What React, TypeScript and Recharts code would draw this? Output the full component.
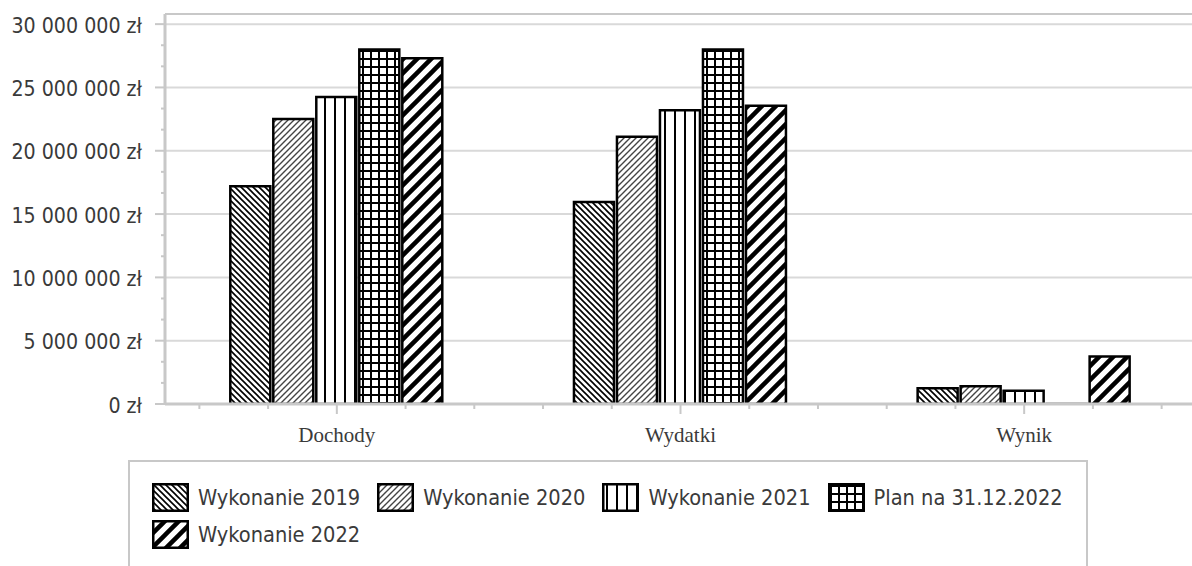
import { BarChart, Bar, XAxis, YAxis, CartesianGrid, ReferenceLine } from 'recharts'

// values (PLN)
const categories = ['Dochody', 'Wydatki', 'Wynik']
const wyk2019 = [17200000, 15950000, 1250000]
const wyk2020 = [22500000, 21100000, 1400000]
const wyk2021 = [24250000, 23200000, 1050000]
const plan2022 = [28000000, 28000000, -150000]
const wyk2022 = [27300000, 23550000, 3750000]

const seriesKeys = ['wyk2019', 'wyk2020', 'wyk2021', 'plan2022', 'wyk2022']
const seriesNames = ['Wykonanie 2019', 'Wykonanie 2020', 'Wykonanie 2021', 'Plan na 31.12.2022', 'Wykonanie 2022']
const seriesPatterns = ['pat2019', 'pat2020', 'pat2021', 'patPlan', 'pat2022']

const yLabels = [0, 5000000, 10000000, 15000000, 20000000, 25000000, 30000000]
const Y_MAX = 30800000
const Y_STEP = 5000000
const MINOR_PER_STEP = 3

// plot area runs a few px past the right edge of the picture
const PAGE_W = 1192
const CHART_W = 1196
const CHART_H = 566
const Y_W = 165
const M_RIGHT = 0
const BAND = (CHART_W - Y_W - M_RIGHT) / categories.length

const SANS = "'DejaVu Sans Condensed', 'DejaVu Sans', sans-serif"
const SERIF = "'Liberation Serif', 'Times New Roman', serif"
const TEXT = '#3a3a3a'
const AXIS = '#c8c8c8'

const data = categories.map((name, i) => ({
  name,
  wyk2019: wyk2019[i],
  wyk2020: wyk2020[i],
  wyk2021: wyk2021[i],
  plan2022: plan2022[i],
  wyk2022: wyk2022[i],
}))

const yTicks = Array.from({ length: (yLabels.length - 1) * MINOR_PER_STEP + 1 }, (_, i) => (i * Y_STEP) / MINOR_PER_STEP)

const fmt = (v: number) => String(Math.round(v)).replace(/\B(?=(\d{3})+(?!\d))/g, ' ') + ' zł'

const YTick = (props: any) => {
  const { x, y, payload } = props
  const v = payload.value
  const major = Math.abs(v / Y_STEP - Math.round(v / Y_STEP)) < 1e-6
  return (
    <g>
      <line x1={x - (major ? 10 : 4)} x2={x} y1={y} y2={y} stroke={AXIS} strokeWidth={2} />
      {major && (
        <text x={x - 23} y={y} dy={8.5} textAnchor="end" fill={TEXT} fontFamily={SANS} fontSize={21.2}>
          {fmt(v)}
        </text>
      )}
    </g>
  )
}

const XTick = (props: any) => {
  const { x, y, payload } = props
  const minors = [-0.4, -0.2, 0.2, 0.4]
  return (
    <g>
      <line x1={x} x2={x} y1={y} y2={y + 10} stroke={AXIS} strokeWidth={2} />
      {minors.map((m) => (
        <line key={m} x1={x + m * BAND} x2={x + m * BAND} y1={y} y2={y + 5} stroke={AXIS} strokeWidth={2} />
      ))}
      <text x={x} y={y + 38} textAnchor="middle" fill={TEXT} fontFamily={SERIF} fontSize={21}>
        {payload.value}
      </text>
    </g>
  )
}

function Patterns() {
  return (
    <svg width={0} height={0} style={{ position: 'absolute' }}>
      <defs>
        <pattern id="pat2019" patternUnits="userSpaceOnUse" width={6} height={6}>
          <rect width={6} height={6} fill="#fff" />
          <path d="M-1,-1 L7,7 M-1,5 L1,7 M5,-1 L7,1" stroke="#000" strokeWidth={1.6} />
        </pattern>
        <pattern id="pat2020" patternUnits="userSpaceOnUse" width={6} height={6}>
          <rect width={6} height={6} fill="#fff" />
          <path d="M-1,7 L7,-1 M-1,1 L1,-1 M5,7 L7,5" stroke="#444" strokeWidth={1.4} />
        </pattern>
        <pattern id="pat2021" patternUnits="userSpaceOnUse" width={10} height={10}>
          <rect width={10} height={10} fill="#fff" />
          <rect x={4} width={2} height={10} fill="#000" />
        </pattern>
        <pattern id="patPlan" patternUnits="userSpaceOnUse" width={8} height={8}>
          <rect width={8} height={8} fill="#fff" />
          <path d="M3,0 V8 M0,3 H8" stroke="#000" strokeWidth={2} />
        </pattern>
        <pattern id="pat2022" patternUnits="userSpaceOnUse" width={14} height={14}>
          <rect width={14} height={14} fill="#fff" />
          <path d="M-1,15 L15,-1 M-4,4 L4,-4 M10,18 L18,10" stroke="#000" strokeWidth={4.5} />
        </pattern>
      </defs>
    </svg>
  )
}

function Legend() {
  return (
    <div
      style={{
        position: 'absolute',
        left: 128,
        top: 460,
        width: 960,
        height: 120,
        border: `2px solid ${AXIS}`,
        padding: '21px 0 0 22px',
        boxSizing: 'border-box',
        display: 'flex',
        flexWrap: 'wrap',
        alignContent: 'flex-start',
        rowGap: 9,
        columnGap: 17,
        fontFamily: SANS,
        fontSize: 21.6,
        color: TEXT,
      }}
    >
      {seriesNames.map((name, i) => (
        <div key={name} style={{ display: 'flex', alignItems: 'center', height: 28 }}>
          <svg width={37} height={29} style={{ marginRight: 9 }}>
            <rect x={1.25} y={1.25} width={34.5} height={26.5} fill={`url(#${seriesPatterns[i]})`} stroke="#000" strokeWidth={2.5} />
          </svg>
          <span style={{ whiteSpace: 'nowrap' }}>{name}</span>
        </div>
      ))}
    </div>
  )
}

export default function App() {
  return (
    <div style={{ position: 'absolute', left: 0, top: 0, width: PAGE_W, height: CHART_H, background: '#fff', overflow: 'hidden' }}>
      <Patterns />
      <BarChart
        width={CHART_W}
        height={CHART_H}
        data={data}
        margin={{ top: 14, right: M_RIGHT, bottom: 122, left: 0 }}
        barCategoryGap="19%"
        barGap={3}
      >
        <CartesianGrid horizontal vertical={false} horizontalValues={yLabels.slice(1)} stroke="#d9d9d9" strokeWidth={2} />
        <ReferenceLine y={Y_MAX} stroke={AXIS} strokeWidth={2} />
        <XAxis
          dataKey="name"
          height={40}
          axisLine={{ stroke: AXIS, strokeWidth: 3 }}
          tickLine={false}
          tickSize={0}
          tickMargin={0}
          tick={<XTick />}
        />
        <YAxis
          width={Y_W}
          domain={[0, Y_MAX]}
          allowDataOverflow
          ticks={yTicks}
          interval={0}
          axisLine={{ stroke: AXIS, strokeWidth: 3 }}
          tickLine={false}
          tickSize={0}
          tickMargin={0}
          tick={<YTick />}
        />
        {seriesKeys.map((k, i) => (
          <Bar
            key={k}
            dataKey={k}
            name={seriesNames[i]}
            fill={`url(#${seriesPatterns[i]})`}
            stroke="#000"
            strokeWidth={2.5}
            isAnimationActive={false}
          />
        ))}
      </BarChart>
      <Legend />
    </div>
  )
}
